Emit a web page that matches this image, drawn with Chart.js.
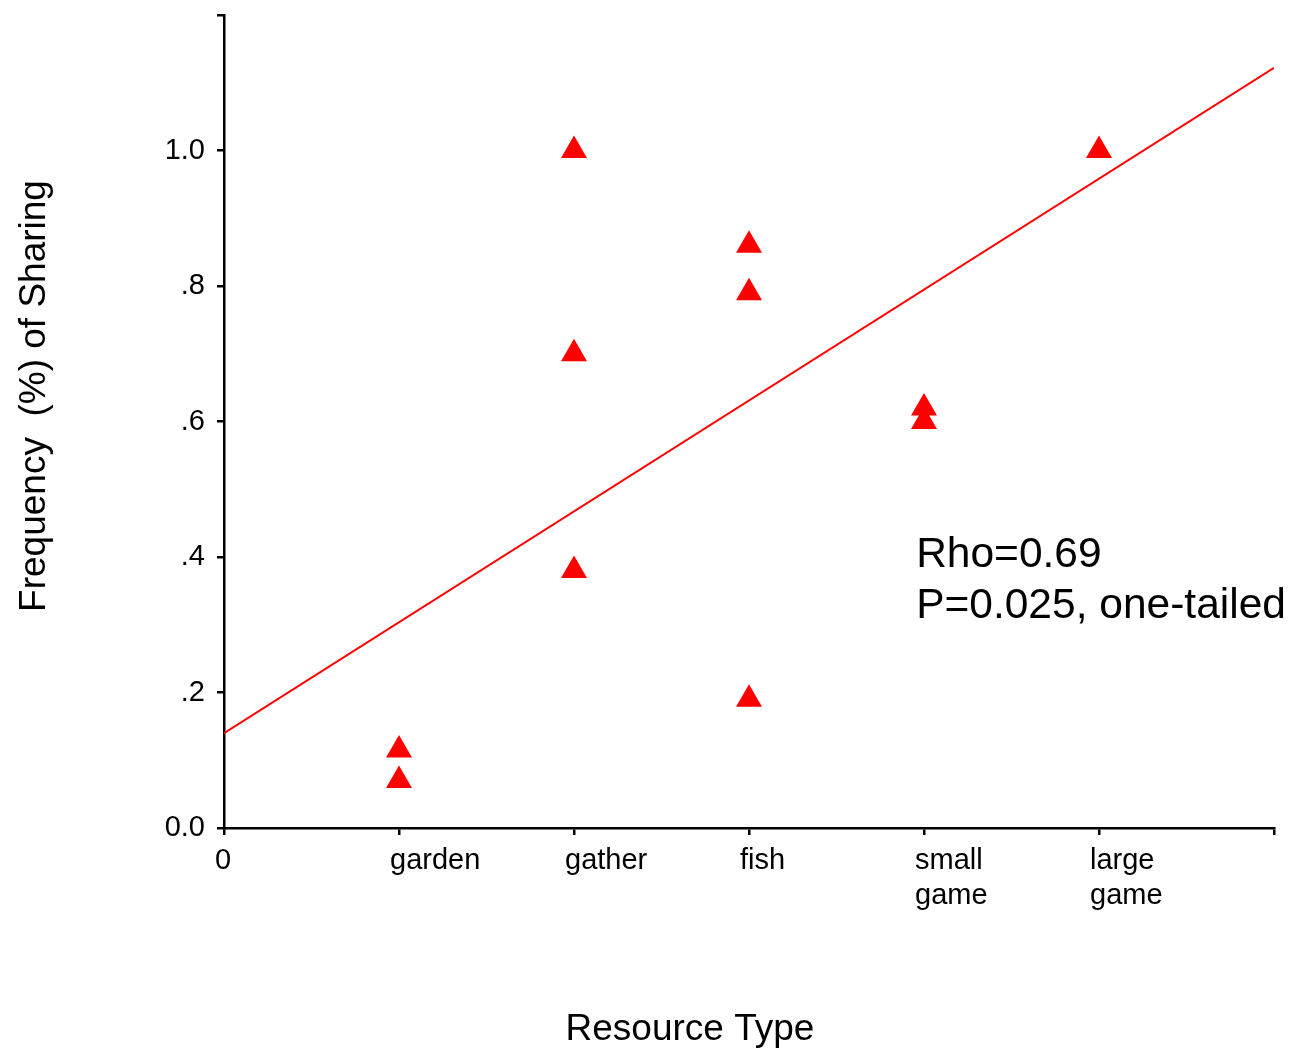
<!DOCTYPE html>
<html>
<head>
<meta charset="utf-8">
<script src="https://cdn.jsdelivr.net/npm/chart.js@4"></script>
<style>
  html, body { margin: 0; padding: 0; background: #fff; }
  canvas { display: block; }
</style>
</head>
<body>
<canvas id="chart" width="1289" height="1052"></canvas>
<script>
// x tick labels, one per integer position 0..6
const xTickLabels = ['0', 'garden', 'gather', 'fish', ['small', 'game'], ['large', 'game'], ''];
const yTickLabels = ['0.0', '.2', '.4', '.6', '.8', '1.0', ''];

// observed sharing frequencies per resource type (x position = index in xTickLabels)
const gardenShare = [0.115, 0.07];
const gatherShare = [1.0, 0.70, 0.38];
const fishShare = [0.86, 0.79, 0.19];
const smallGameShare = [0.62, 0.60];
const largeGameShare = [1.0];

// fitted line end points
const fitX = [0, 6];
const fitY = [0.14, 1.122];

const statsText = ['Rho=0.69', 'P=0.025, one-tailed'];
const statsAt = [3.955, 0.403];

const groups = [gardenShare, gatherShare, fishShare, smallGameShare, largeGameShare];
const points = [];
groups.forEach((vals, i) => vals.forEach(v => points.push({ x: i + 1, y: v })));

const FONT = '"Liberation Sans", Arial, sans-serif';

const notes = {
    id: 'notes',
    afterDraw(chart) {
        const { ctx, scales: { x, y } } = chart;
        ctx.save();
        ctx.fillStyle = '#000';
        ctx.textBaseline = 'middle';

        // Rho / P annotation
        ctx.font = '42.5px ' + FONT;
        ctx.textAlign = 'left';
        statsText.forEach((t, i) => {
            ctx.fillText(t, x.getPixelForValue(statsAt[0]), y.getPixelForValue(statsAt[1]) + i * 51);
        });

        // axis titles
        ctx.font = '37px ' + FONT;
        ctx.textAlign = 'center';
        ctx.fillText('Resource Type', 690, 1030);
        ctx.translate(35, 396);
        ctx.rotate(-Math.PI / 2);
        ctx.fillText('Frequency  (%) of Sharing', 0, 0);
        ctx.restore();
    }
};

new Chart(document.getElementById('chart'), {
    type: 'scatter',
    data: {
        datasets: [{
            data: points,
            pointStyle: 'triangle',
            pointRadius: 15,
            pointHoverRadius: 15,
            backgroundColor: '#ff0000',
            borderColor: '#ff0000',
            borderWidth: 0
        },
        {
            type: 'line',
            data: fitX.map((v, i) => ({ x: v, y: fitY[i] })),
            borderColor: '#ff0000',
            borderWidth: 2,
            pointRadius: 0,
            fill: false
        }]
    },
    options: {
        responsive: false,
        animation: false,
        layout: { padding: { top: 10, right: 15, left: 0, bottom: 0 } },
        plugins: {
            legend: { display: false },
            tooltip: { enabled: false }
        },
        scales: {
            x: {
                type: 'linear',
                min: 0,
                max: 6,
                border: { color: '#000', width: 2.5 },
                grid: { drawOnChartArea: false, drawTicks: true, tickLength: 7, tickColor: '#000', lineWidth: 2.5 },
                ticks: {
                    stepSize: 1,
                    autoSkip: false,
                    maxRotation: 0,
                    align: 'start',
                    labelOffset: -9,
                    padding: 9,
                    color: '#000',
                    font: { family: FONT, size: 29, lineHeight: 1.2 },
                    callback: v => xTickLabels[Math.round(v)]
                },
                afterFit: s => { s.height = 224; s.paddingLeft = 0; s.paddingRight = 0; }
            },
            y: {
                min: 0,
                max: 1.2,
                border: { color: '#000', width: 2.5 },
                grid: { drawOnChartArea: false, drawTicks: true, tickLength: 7, tickColor: '#000', lineWidth: 2.5 },
                ticks: {
                    stepSize: 0.2,
                    padding: 12,
                    color: '#000',
                    font: { family: FONT, size: 29 },
                    callback: v => yTickLabels[Math.round(v * 5)]
                },
                afterFit: s => { s.width = 224; s.paddingTop = 0; s.paddingBottom = 0; }
            }
        }
    },
    plugins: [notes]
});
</script>
</body>
</html>
